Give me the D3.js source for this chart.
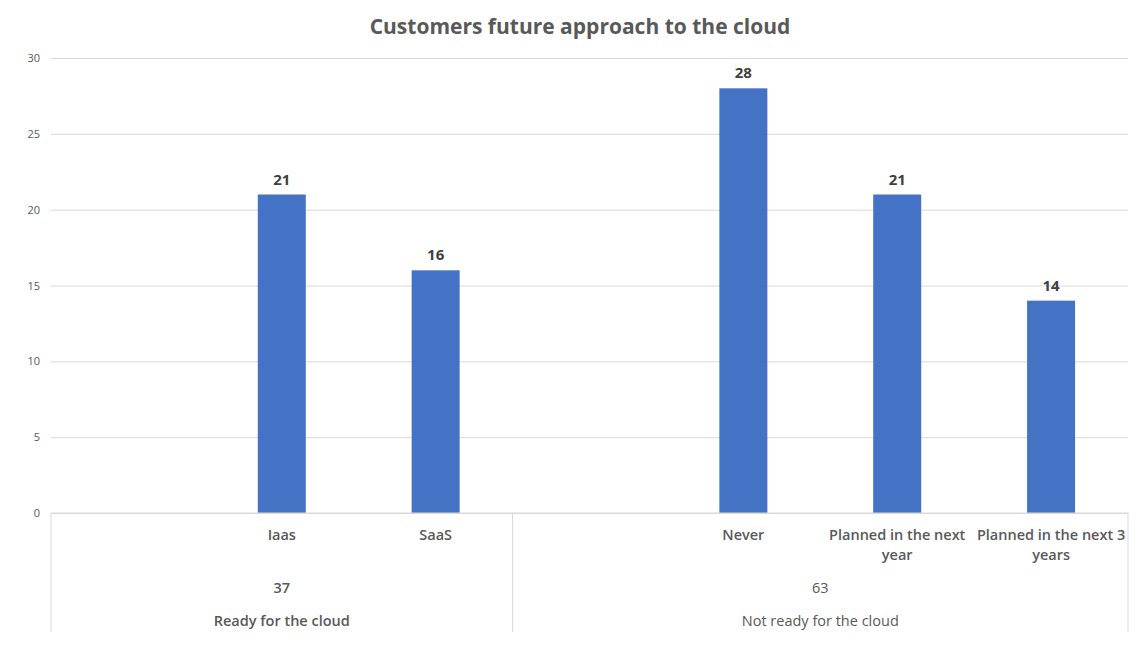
<!DOCTYPE html>
<html><head><meta charset="utf-8">
<script src="https://cdn.jsdelivr.net/npm/d3@7"></script>
<style>body{margin:0;background:#fff;} text{font-family:"Open Sans",sans-serif;}</style>
</head><body>
<svg id="c" width="1140" height="652"></svg>
<script>
const title = "Customers future approach to the cloud";
const groups = ["Ready for the cloud", "Not ready for the cloud"];
const groupTotals = [37, 63];
const categories = ["r0", "Iaas", "SaaS", "n0", "Never", "Planned in the next year", "Planned in the next 3 years"];
const categoryLabels = [[], ["Iaas"], ["SaaS"], [], ["Never"], ["Planned in the next", "year"], ["Planned in the next 3", "years"]];
const categoryGroup = [0, 0, 0, 1, 1, 1, 1];
const values = [null, 21, 16, null, 28, 21, 14];
const yTicks = [0, 5, 10, 15, 20, 25, 30];

const svg = d3.select("#c");
const L = 51, R = 1128, T = 58, B = 513;
const x = d3.scaleBand().domain(categories).range([L, R]).paddingInner(0.688).paddingOuter(0.344);
const y = d3.scaleLinear().domain([0, 30]).range([B, T]);

svg.append("text").attr("x", 580).attr("y", 34).attr("text-anchor", "middle")
  .attr("font-size", 21).attr("font-weight", "bold").attr("fill", "#595959").text(title);

// gridlines
const yAxis = d3.axisLeft(y).tickValues(yTicks).tickSize(-(R - L)).tickPadding(11);
const ga = svg.append("g").attr("transform", `translate(${L},0)`).call(yAxis);
ga.select(".domain").remove();
ga.selectAll(".tick line").attr("stroke", "#d9d9d9");
ga.selectAll(".tick text").attr("fill", "#595959").attr("font-size", 11).attr("font-family", "Open Sans");

// bars
const data = categories.map((c, i) => ({c, v: values[i]})).filter(d => d.v != null);
svg.selectAll("rect.bar").data(data).enter().append("rect").attr("class", "bar")
  .attr("x", d => x(d.c)).attr("width", x.bandwidth())
  .attr("y", d => y(d.v)).attr("height", d => y(0) - y(d.v)).attr("fill", "#4472c4");
svg.selectAll("text.lbl").data(data).enter().append("text").attr("class", "lbl")
  .attr("x", d => x(d.c) + x.bandwidth() / 2).attr("y", d => y(d.v) - 10)
  .attr("text-anchor", "middle").attr("font-size", 15).attr("font-weight", "bold").attr("fill", "#404040")
  .text(d => d.v);

// category axis
const axisBottom = 632;
svg.append("line").attr("x1", L).attr("x2", R).attr("y1", B).attr("y2", B).attr("stroke", "#d9d9d9");
const step = x.step();
const groupEdges = [L];
groups.forEach((g, gi) => {
  const idx = categoryGroup.map((v, i) => v === gi ? i : -1).filter(i => i >= 0);
  const last = categories[idx[idx.length - 1]];
  groupEdges.push(x(last) + x.bandwidth() / 2 + step / 2);
});
svg.selectAll("line.sep").data(groupEdges).enter().append("line").attr("class", "sep")
  .attr("x1", d => d).attr("x2", d => d).attr("y1", B).attr("y2", axisBottom).attr("stroke", "#d9d9d9");

categories.forEach((c, i) => {
  const t = svg.append("text").attr("x", x(c) + x.bandwidth() / 2).attr("y", 540)
    .attr("text-anchor", "middle").attr("font-size", 14.5).attr("font-weight", 600).attr("fill", "#595959");
  categoryLabels[i].forEach((ln, k) => t.append("tspan").attr("x", x(c) + x.bandwidth() / 2).attr("dy", k ? 20 : 0).text(ln));
});

groups.forEach((g, gi) => {
  const cx = (groupEdges[gi] + groupEdges[gi + 1]) / 2;
  svg.append("text").attr("x", cx).attr("y", 593).attr("text-anchor", "middle")
    .attr("font-size", 14.5).attr("font-weight", gi === 0 ? 600 : 500).attr("fill", "#595959").text(groupTotals[gi]);
  svg.append("text").attr("x", cx).attr("y", 626).attr("text-anchor", "middle")
    .attr("font-size", 14.5).attr("font-weight", gi === 0 ? 600 : 500).attr("fill", "#595959").text(g);
});
</script>
</body></html>
